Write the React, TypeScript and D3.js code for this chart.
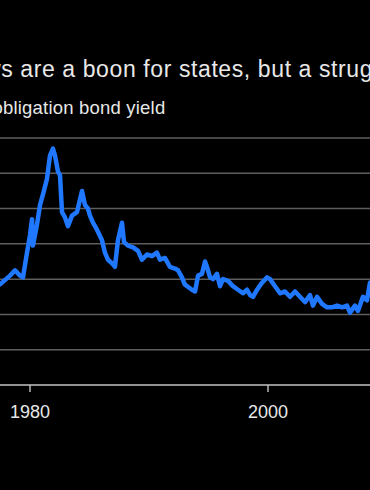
import React from "react";
import * as d3 from "d3";

const years = [
  1977.48, 1978.32, 1978.74, 1979.16, 1979.41, 1979.75, 1980.0, 1980.17, 1980.25, 1980.59,
  1980.84, 1981.09, 1981.43, 1981.68, 1981.93, 1982.1, 1982.35, 1982.52, 1982.69, 1982.94,
  1983.19, 1983.53, 1983.95, 1984.37, 1984.62, 1984.87, 1985.04, 1985.29, 1985.63, 1986.05,
  1986.3, 1986.55, 1986.89, 1987.14, 1987.39, 1987.73, 1987.9, 1988.24, 1988.66, 1989.08,
  1989.41, 1989.83, 1990.25, 1990.67, 1990.92, 1991.34, 1991.76, 1992.18, 1992.44, 1992.77,
  1993.0, 1993.61, 1993.87, 1994.12, 1994.45, 1994.71, 1994.87, 1995.13, 1995.38, 1995.71,
  1995.97, 1996.22, 1996.64, 1997.06, 1997.48, 1997.9, 1998.24, 1998.49, 1998.74, 1999.08,
  1999.5, 1999.92, 2000.17, 2000.59, 2001.01, 2001.43, 2001.85, 2002.27, 2002.69, 2003.11,
  2003.53, 2003.78, 2004.12, 2004.54, 2004.96, 2005.38, 2005.8, 2006.22, 2006.64, 2006.89,
  2007.31, 2007.56, 2007.98, 2008.32, 2008.57, 2008.9,
];

const yields = [
  5.7, 6.2, 6.5, 6.2, 6.1, 7.5, 8.5, 9.4, 7.9, 9.1,
  10.2, 10.8, 11.7, 13.0, 13.4, 13.0, 12.1, 11.9, 9.8, 9.5,
  9.0, 9.6, 9.8, 11.0, 10.2, 10.0, 9.6, 9.2, 8.8, 8.2,
  7.5, 7.1, 6.9, 6.7, 8.2, 9.2, 8.1, 7.9, 7.8, 7.6,
  7.1, 7.4, 7.3, 7.5, 7.1, 7.2, 6.7, 6.6, 6.5, 6.1,
  5.7, 5.4, 5.3, 6.2, 6.3, 7.0, 6.7, 6.1, 6.0, 6.3,
  5.6, 6.0, 5.9, 5.6, 5.4, 5.2, 5.4, 5.1, 5.0, 5.4,
  5.8, 6.1, 6.0, 5.6, 5.2, 5.3, 5.0, 5.3, 5.0, 4.7,
  5.1, 4.5, 5.0, 4.6, 4.4, 4.4, 4.5, 4.4, 4.5, 4.1,
  4.5, 4.2, 5.0, 4.8, 5.8, 5.9,
];

const gridValues = [2, 4, 6, 8, 10, 12, 14];
const tickYears = [1980, 2000];
const titleText = "ws are a boon for states, but a strug";
const subtitleText = "obligation bond yield";

export default function App() {
  const W = 370;
  const H = 490;
  const x = d3.scaleLinear().domain([1980, 2000]).range([30, 268]);
  const y = d3.scaleLinear().domain([0, 14]).range([385, 138]);
  const data = years.map((yr, i) => ({ yr, v: yields[i] }));
  const line = d3
    .line<{ yr: number; v: number }>()
    .x((d) => x(d.yr))
    .y((d) => y(d.v));

  return (
    <svg
      width={W}
      height={H}
      style={{ position: "fixed", left: 0, top: 0, overflow: "hidden", display: "block" }}
      fontFamily="'Liberation Sans', Arial, sans-serif"
    >
      <rect x={0} y={0} width={W} height={H} fill="#000" />
      <text x={-16} y={77} fill="#e8e8e8" fontSize={23} letterSpacing={0.6}>
        {titleText}
      </text>
      <text x={-7.5} y={114} fill="#e8e8e8" fontSize={18.5} letterSpacing={0.2}>
        {subtitleText}
      </text>
      {gridValues.map((g) => (
        <line key={g} x1={0} x2={W} y1={y(g)} y2={y(g)} stroke="#5e5e5e" strokeWidth={1.5} />
      ))}
      <path
        d={line(data) || ""}
        fill="none"
        stroke="#1f78ff"
        strokeWidth={4.5}
        strokeLinejoin="round"
        strokeLinecap="round"
      />
      <line x1={0} x2={W} y1={y(0)} y2={y(0)} stroke="#c4c4c4" strokeWidth={1.4} />
      {tickYears.map((t) => (
        <g key={t}>
          <line x1={x(t)} x2={x(t)} y1={y(0)} y2={y(0) + 7} stroke="#c4c4c4" strokeWidth={1.4} />
          <text x={x(t)} y={418} fill="#e8e8e8" fontSize={18} textAnchor="middle">
            {String(t)}
          </text>
        </g>
      ))}
    </svg>
  );
}
